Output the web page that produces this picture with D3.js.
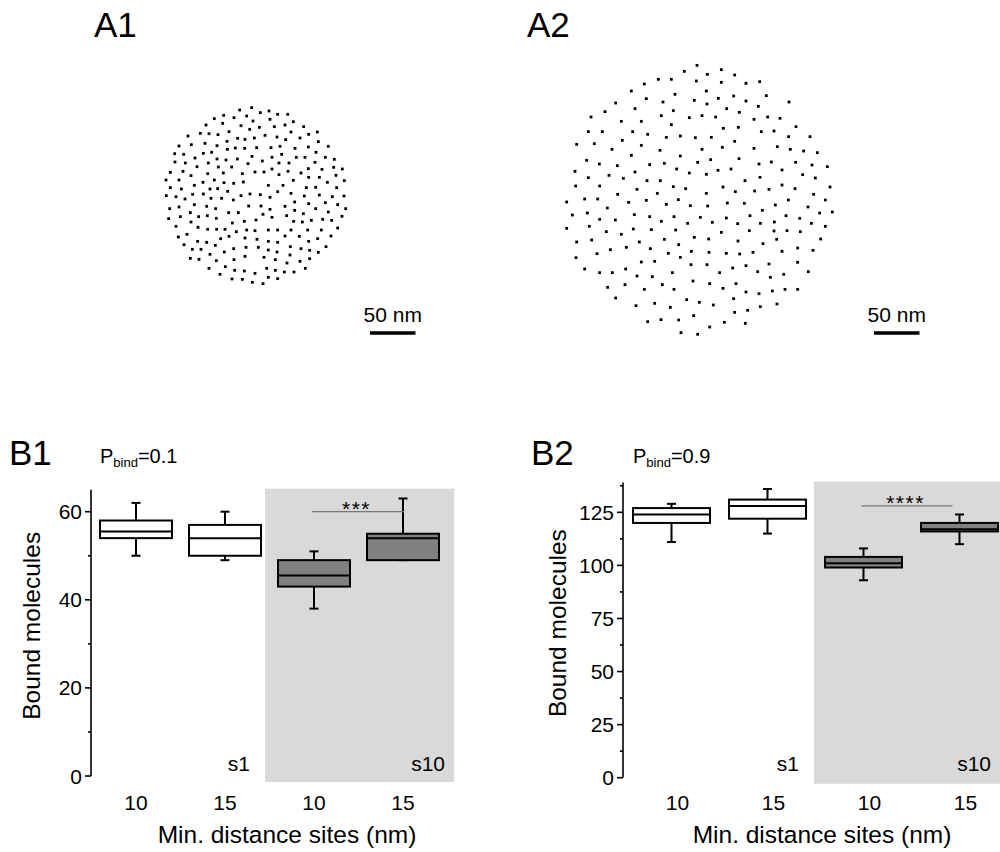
<!DOCTYPE html>
<html>
<head>
<meta charset="utf-8">
<style>
    body{ margin:0; background:#fff; }
    svg text{ font-family: Arial, "Liberation Sans", Helvetica, sans-serif; fill:#000; }
    .dot{ fill:#000; }
    .axis-line, .tick{ stroke:#000; stroke-width:1.6px; }
    .box{ stroke:#000; stroke-width:2px; }
    .whisker{ stroke:#000; stroke-width:2px; }
    .sig{ stroke:#777; stroke-width:1.2px; }
</style>
</head>
<body>
<svg id="fig" width="1000" height="852"></svg>
<script src="https://cdn.jsdelivr.net/npm/d3@7"></script>
<script>
// A1 / A2 site positions (units: 1/3 px grid of each panel crop)
var a1Sites = [
 // upper left
 [254,30],[290,23],[206,46],[275,48],[237,53],[178,56],[294,63],[153,75],[203,70],[258,77],[284,88],[222,95],
 [99,108],[136,100],[162,101],[189,104],[248,115],[270,118],[298,114],
 [72,138],[109,134],[150,130],[186,137],[216,124],[217,148],[241,144],[269,145],
 [59,161],[86,163],[120,174],[145,160],[170,157],[186,177],[213,180],[247,177],[291,169],
 [60,186],[91,189],[126,200],[160,189],[190,201],[230,201],[279,191],
 [46,217],[84,214],[108,227],[158,221],[205,219],[262,221],
 [33,240],[72,240],[118,256],[144,247],[178,240],[207,248],[236,250],[265,246],
 [46,263],[79,267],[165,267],[188,266],
 // upper right
 [316,38],[342,33],[368,43],[398,43],[345,58],[415,65],[313,82],[358,80],[390,75],[446,80],
 [408,96],[461,103],[487,96],[330,106],[366,111],[392,119],[435,114],[490,125],
 [305,143],[348,143],[375,139],[420,145],[460,141],[520,139],
 [380,163],[483,157],[424,172],[450,172],[511,172],[538,178],[322,183],[351,172],
 [372,189],[402,189],[480,187],[536,202],[562,207],[351,207],[460,206],[501,208],
 [300,216],[327,216],[372,224],[399,214],[438,219],[543,226],[568,242],
 [461,232],[493,232],[517,247],[415,241],
 [340,256],[384,256],[454,263],[482,262],[545,263],
 // lower left
 [34,287],[63,290],[90,297],[113,283],[145,282],[168,295],[200,295],[218,274],[235,300],[258,287],[285,282],
 [44,326],[72,321],[118,314],[155,319],[182,326],[281,318],
 [41,356],[76,350],[106,338],[131,350],[157,347],[184,355],[221,338],[250,338],
 [63,379],[108,366],[129,382],[158,388],[185,388],[210,388],[232,369],[268,364],[244,395],[275,390],
 [70,411],[96,403],[128,424],[155,427],[197,416],[222,409],[270,414],
 [87,434],[112,448],[138,448],[181,436],[208,456],[236,446],[273,442],
 [106,475],[132,478],[165,463],[184,482],[237,479],[270,469],
 [162,505],[211,500],[239,511],[268,513],
 [195,523],[231,537],[262,538],[292,547],
 // lower right
 [316,284],[345,292],[368,275],[408,280],[448,288],[493,285],[532,290],[567,288],
 [318,318],[345,328],[390,319],[419,306],[461,311],[511,308],[548,314],
 [324,343],[351,352],[395,347],[419,331],[445,341],[482,326],[520,336],[561,349],[572,326],
 [303,360],[416,364],[442,366],[469,361],[503,358],[530,361],
 [300,392],[340,390],[368,390],[408,390],[458,390],[499,390],[548,384],
 [306,418],[390,408],[433,409],[488,416],[528,408],
 [340,424],[368,427],[461,424],
 [310,442],[406,440],[438,446],[464,451],[513,440],[340,450],[366,456],[490,457],
 [327,472],[361,479],[405,465],[464,476],[435,484],[396,489],
 [335,505],[361,511],[388,516],[417,516],[451,505],[300,520],
 [340,532],[368,536],[324,551]
];
var a2Sites = [
 [426,31],[388,49],[499,44],[457,58],[539,60],[310,73],[349,73],[268,87],[424,78],[499,82],[573,85],[614,80],
 [229,108],[360,118],[454,108],[274,131],[324,141],[418,136],[456,147],[490,130],[536,123],[573,138],[610,154],[634,122],[702,141],
 [182,144],[240,161],[150,170],[108,186],[199,199],[259,199],[319,182],[355,167],[403,188],[441,182],[482,186],[515,161],[553,172],[597,193],[638,186],[675,190],[723,215],
 [349,209],[505,220],[550,217],[100,230],[142,230],[233,230],[278,238],[334,247],[376,243],[421,248],[469,247],[539,259],[619,230],[657,228],[701,245],[765,245],
 [65,268],[118,266],[202,256],[259,271],[171,283],[315,286],[441,283],[502,277],[597,280],[667,275],[706,283],[746,288],[787,293],
 [95,316],[133,327],[187,332],[229,301],[284,329],[328,325],[376,303],[428,322],[467,314],[552,311],[612,327],[649,321],[722,322],[771,330],[817,335],
 [60,349],[100,368],[162,361],[205,370],[240,351],[365,342],[403,354],[454,358],[489,346],[528,342],[570,377],[615,367],[681,345],[743,359],[781,369],
 [62,393],[134,393],[188,418],[246,403],[276,377],[316,377],[355,395],[392,401],[454,415],[504,396],[541,410],[599,408],[642,403],[681,390],[720,401],[776,418],[825,396],
 [35,441],[89,432],[128,432],[157,459],[221,442],[274,436],[307,415],[334,448],[370,434],[406,452],[458,453],[517,444],[568,445],[622,466],[661,450],[700,435],[759,456],[811,435],
 [52,480],[97,474],[134,493],[181,495],[238,479],[284,485],[319,499],[357,485],[398,505],[436,487],[472,502],[514,489],[548,506],[585,482],[616,505],[658,501],[693,482],[734,490],[769,505],[794,474],[832,471],
 [35,520],[103,514],[154,530],[199,538],[235,522],[289,524],[362,525],[418,547],[461,552],[499,532],[549,558],[583,527],[657,528],[696,527],[736,530],[811,514],
 [65,561],[110,555],[166,584],[214,577],[253,561],[286,581],[328,553],[371,569],[409,589],[462,592],[514,595],[554,597],[594,592],[624,566],[665,553],[681,589],[728,579],[774,586],[797,552],
 [63,608],[126,596],[259,621],[299,619],[340,595],[376,607],[408,629],[456,629],[494,653],[533,639],[573,632],[608,650],[642,627],[686,658],[728,622],[760,650],
 [89,642],[134,653],[172,653],[212,642],[246,663],[292,665],[352,653],[414,678],[464,686],[504,700],[543,686],[573,711],[612,716],[646,667],[652,708],[690,703],[728,703],
 [158,697],[210,689],[268,703],[322,689],[357,703],
 [182,729],[243,752],[299,745],[346,757],[395,734],[433,742],[475,750],[536,731],[578,766],[616,755],[666,747],
 [278,800],[318,794],[371,795],[416,782],[508,802],[539,772],[571,805],[378,833],[428,838],[464,816]
];

// box plot data
var distances = ["10", "15", "10", "15"];
var seeds = ["s1", "s1", "s10", "s10"];

var b1Low  = [50, 49, 38, 49];
var b1Q1   = [54, 50, 43, 49];
var b1Med  = [55.5, 54, 45.5, 54];
var b1Q3   = [58, 57, 49, 55];
var b1High = [62, 60, 51, 63];
var b1Ticks = [0, 20, 40, 60];
var b1Minor = [10, 30, 50];

var b2Low  = [111, 115, 93, 110];
var b2Q1   = [120, 122, 99, 116];
var b2Med  = [124, 128, 101, 117];
var b2Q3   = [127, 131, 104, 120];
var b2High = [129, 136, 108, 124];
var b2Ticks = [0, 25, 50, 75, 100, 125];
var b2Minor = [12.5, 37.5, 62.5, 87.5, 112.5, 137.5];

var svg = d3.select('#fig');

// ---- A panels: site maps ----
function sitePanel(sites, cfg){
    var x = d3.scaleLinear().domain([0, cfg.w]).range([cfg.x0, cfg.x0 + cfg.w / 3]);
    var y = d3.scaleLinear().domain([0, cfg.h]).range([cfg.y0, cfg.y0 + cfg.h / 3]);
    var g = svg.append('g');
    g.selectAll('rect.dot')
        .data(sites)
        .enter().append('rect')
        .attr('class', 'dot')
        .attr('x', function(d){ return x(d[0]) - 1.4; })
        .attr('y', function(d){ return y(d[1]) - 1.4; })
        .attr('width', 2.8)
        .attr('height', 2.8);

    // 50 nm scale bar
    var nm = d3.scaleLinear().domain([0, 50]).range([0, 45.5]);
    g.append('line')
        .attr('x1', cfg.barX).attr('x2', cfg.barX + nm(50))
        .attr('y1', 333).attr('y2', 333)
        .attr('stroke', '#000').attr('stroke-width', 3.5);
    g.append('text')
        .attr('x', cfg.barX + nm(50) / 2).attr('y', 322)
        .attr('text-anchor', 'middle')
        .style('font-size', '21px')
        .text('50 nm');

    svg.append('text')
        .attr('x', cfg.lx).attr('y', 37)
        .style('font-size', '35px')
        .text(cfg.label);
}

sitePanel(a1Sites, {x0: 155, y0: 100, w: 600, h: 570, barX: 370, lx: 94, label: 'A1'});
sitePanel(a2Sites, {x0: 555, y0: 55, w: 870, h: 870, barX: 874, lx: 527, label: 'A2'});

// ---- B panels: box plots ----
function boxPanel(cfg){
    var g = svg.append('g');
    var idx = d3.range(distances.length);

    var x = d3.scalePoint().domain(idx).range(cfg.xr);
    var y = d3.scaleLinear().domain(cfg.domain).range([cfg.y0, cfg.y0 - cfg.pxPerUnit * cfg.domain[1]]);

    // shaded s10 region
    g.append('rect')
        .attr('x', cfg.shadeX)
        .attr('y', y(cfg.domain[1]) - 1)
        .attr('width', cfg.shadeX2 - cfg.shadeX)
        .attr('height', y(0) + 6 - y(cfg.domain[1]) + 1)
        .attr('fill', '#d9d9d9');

    // y axis
    g.append('line').attr('class', 'axis-line')
        .attr('x1', cfg.ax).attr('x2', cfg.ax)
        .attr('y1', y(cfg.domain[1])).attr('y2', y(0));
    g.selectAll('line.major').data(cfg.ticks).enter().append('line')
        .attr('class', 'tick')
        .attr('x1', cfg.ax - 6).attr('x2', cfg.ax)
        .attr('y1', function(d){ return y(d); }).attr('y2', function(d){ return y(d); });
    g.selectAll('line.minor').data(cfg.minor).enter().append('line')
        .attr('class', 'tick')
        .attr('x1', cfg.ax - 3).attr('x2', cfg.ax)
        .attr('y1', function(d){ return y(d); }).attr('y2', function(d){ return y(d); });
    g.selectAll('text.ytick').data(cfg.ticks).enter().append('text')
        .attr('x', cfg.ax - 9)
        .attr('y', function(d){ return y(d) + 7.5; })
        .attr('text-anchor', 'end')
        .style('font-size', '21px')
        .text(function(d){ return d; });

    g.append('text')
        .attr('transform', 'translate(' + cfg.ytx + ',' + ((y(0) + y(cfg.domain[1])) / 2 - 7) + ') rotate(-90)')
        .attr('text-anchor', 'middle')
        .style('font-size', '24.5px')
        .text('Bound molecules');

    // whiskers
    var bw = cfg.bw;
    g.selectAll('line.wh').data(idx).enter().append('line')
        .attr('class', 'whisker')
        .attr('x1', function(i){ return x(i); }).attr('x2', function(i){ return x(i); })
        .attr('y1', function(i){ return y(cfg.high[i]); }).attr('y2', function(i){ return y(cfg.low[i]); });
    [cfg.high, cfg.low].forEach(function(arr){
        g.selectAll(null).data(idx).enter().append('line')
            .attr('class', 'whisker')
            .attr('x1', function(i){ return x(i) - 4.5; }).attr('x2', function(i){ return x(i) + 4.5; })
            .attr('y1', function(i){ return y(arr[i]); }).attr('y2', function(i){ return y(arr[i]); });
    });

    // boxes
    g.selectAll('rect.box').data(idx).enter().append('rect')
        .attr('class', 'box')
        .attr('x', function(i){ return x(i) - bw / 2; })
        .attr('width', bw)
        .attr('y', function(i){ return y(cfg.q3[i]); })
        .attr('height', function(i){ return y(cfg.q1[i]) - y(cfg.q3[i]); })
        .attr('fill', function(i){ return seeds[i] === 's10' ? '#808080' : '#fff'; });
    g.selectAll('line.med').data(idx).enter().append('line')
        .attr('stroke', '#000').attr('stroke-width', 2)
        .attr('x1', function(i){ return x(i) - bw / 2; }).attr('x2', function(i){ return x(i) + bw / 2; })
        .attr('y1', function(i){ return y(cfg.med[i]); }).attr('y2', function(i){ return y(cfg.med[i]); });

    // x labels
    g.selectAll('text.xtick').data(idx).enter().append('text')
        .attr('x', function(i){ return x(i) + cfg.xlShift; })
        .attr('y', 810)
        .attr('text-anchor', 'middle')
        .style('font-size', '21px')
        .text(function(i){ return distances[i]; });
    g.append('text')
        .attr('x', cfg.xtx).attr('y', 843)
        .attr('text-anchor', 'middle')
        .style('font-size', '24.5px')
        .text('Min. distance sites (nm)');

    // seed labels
    g.append('text')
        .attr('x', cfg.s1x).attr('y', 771)
        .attr('text-anchor', 'end').style('font-size', '21px')
        .text('s1');
    g.append('text')
        .attr('x', cfg.shadeX2 - 9).attr('y', 771)
        .attr('text-anchor', 'end').style('font-size', '21px')
        .text('s10');

    // significance
    g.append('line').attr('class', 'sig')
        .attr('x1', x(2) - 2).attr('x2', x(3) + 1 - cfg.sigTrim)
        .attr('y1', y(cfg.sigAt)).attr('y2', y(cfg.sigAt));
    g.append('text')
        .attr('x', (x(2) + x(3) - cfg.sigTrim) / 2 - 2)
        .attr('y', y(cfg.sigAt) + 4)
        .attr('text-anchor', 'middle')
        .style('font-size', '21px')
        .style('letter-spacing', '1.5px')
        .text(cfg.stars);

    // panel label and P_bind
    svg.append('text').attr('x', cfg.lx).attr('y', 465).style('font-size', '35px').text(cfg.label);
    var p = svg.append('text').attr('x', cfg.px).attr('y', 463).style('font-size', '20px');
    p.append('tspan').text('P');
    p.append('tspan').attr('dy', 4).style('font-size', '13px').text('bind');
    p.append('tspan').attr('dy', -4).text('=' + cfg.pbind);
}

boxPanel({
    label: 'B1', lx: 9, px: 100, pbind: '0.1',
    xr: [136, 403], bw: 72, ax: 91, y0: 776, pxPerUnit: 4.405, domain: [0, 65],
    ticks: b1Ticks, minor: b1Minor,
    low: b1Low, q1: b1Q1, med: b1Med, q3: b1Q3, high: b1High,
    shadeX: 265, shadeX2: 454, ytx: 40, xtx: 287, s1x: 250, xlShift: 0,
    sigAt: 60, sigTrim: 0, stars: '***'
});
boxPanel({
    label: 'B2', lx: 531, px: 633, pbind: '0.9',
    xr: [671.5, 959.5], bw: 77, ax: 623, y0: 777.7, pxPerUnit: 2.123, domain: [0, 139],
    ticks: b2Ticks, minor: b2Minor,
    low: b2Low, q1: b2Q1, med: b2Med, q3: b2Q3, high: b2High,
    shadeX: 814, shadeX2: 1000, ytx: 566, xtx: 822, s1x: 799, xlShift: 6,
    sigAt: 128, sigTrim: 8, stars: '****'
});
</script>
</body>
</html>
